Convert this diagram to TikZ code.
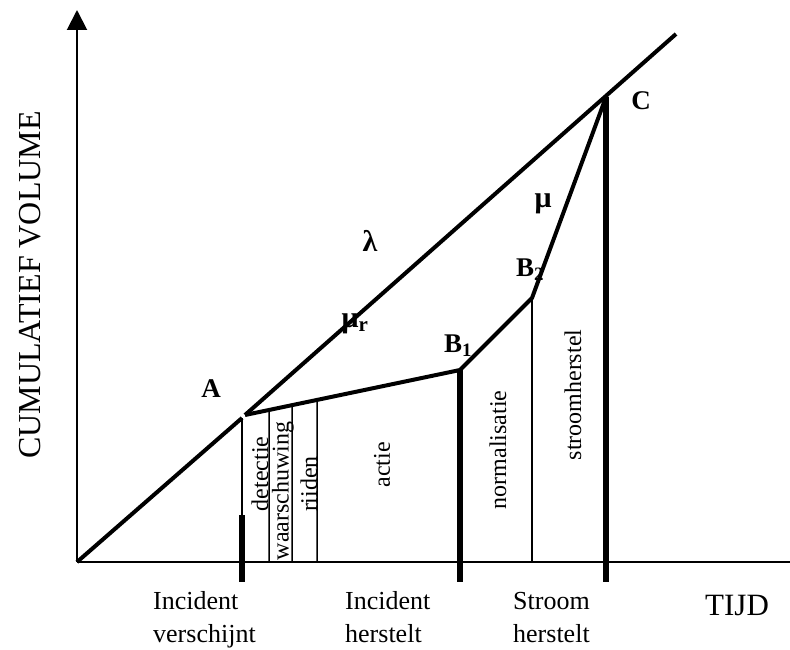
\documentclass[tikz,border=0pt]{standalone}
\usepackage{fontspec}
\setmainfont{Liberation Serif}
\usetikzlibrary{arrows.meta}
\begin{document}
\begin{tikzpicture}[x=1pt,y=-1pt,
  axisline/.style={line width=2pt},
  flowline/.style={line width=4pt},
  thickmark/.style={line width=6pt},
  thinmark/.style={line width=1.5pt},
  phase/.style={rotate=90,inner sep=0pt,font=\fontsize{24}{28}\selectfont},
  bottomlbl/.style={anchor=base west,inner sep=0pt,font=\fontsize{26}{30}\selectfont},
  ptlbl/.style={inner sep=0pt,font=\fontsize{27}{30}\selectfont\bfseries},
  greek/.style={inner sep=0pt,font=\fontsize{30}{34}\selectfont\bfseries}]
\useasboundingbox (0,0) rectangle (790,650);
% coordinates
\coordinate (O) at (77,562);
\coordinate (Ytop) at (77,10);
\coordinate (Xend) at (790,562);
\coordinate (A1) at (242,418);
\coordinate (A2) at (245,415);
\coordinate (Lend) at (676,34);
\coordinate (B1) at (460,370);
\coordinate (B2) at (532,298);
\coordinate (C) at (606,97);
\coordinate (Amid) at (242,515);
\coordinate (Abot) at (242,582);
\coordinate (B1bot) at (460,582);
\coordinate (Cbot) at (606,582);
\coordinate (B2bot) at (532,562);
\coordinate (d1) at (269,562);
\coordinate (d2) at (292,562);
\coordinate (d3) at (317,562);
\coordinate (d1t) at (intersection of A2--B1 and 269,0--269,600);
\coordinate (d2t) at (intersection of A2--B1 and 292,0--292,600);
\coordinate (d3t) at (intersection of A2--B1 and 317,0--317,600);
% axes
\draw[axisline,-{Triangle[width=20pt,length=20pt]}] (O) -- (Ytop);
\draw[axisline] (O) -- (Xend);
% thin verticals
\draw[thinmark] (A1) -- (Amid);
\draw[thinmark] (d1t) -- (d1);
\draw[thinmark] (d2t) -- (d2);
\draw[thinmark] (d3t) -- (d3);
\draw[thinmark] (B2) -- (B2bot);
% thick verticals
\draw[thickmark] (Amid) -- (Abot);
\draw[thickmark] (B1) -- (B1bot);
\draw[thickmark] (C) -- (Cbot);
% flow lines
\draw[flowline] (O) -- (A1);
\draw[flowline] (A2) -- (Lend);
\draw[flowline,line join=round] (A2) -- (B1) -- (B2) -- (C);
% labels
\node[ptlbl] (lA) at (211,389) {A};
\node[ptlbl] (lB1) at (458,346) {B\textsubscript{1}};
\node[ptlbl] (lB2) at (530,270) {B\textsubscript{2}};
\node[ptlbl] (lC) at (641,101) {C};
\node[greek] (lam) at (370,241) {λ};
\node[greek] (mu) at (543,204) {μ};
\node[greek] (mur) at (355,324) {μ\textsubscript{r}};
% phases
\node[phase] (p1) at (260,474) {detectie};
\node[phase] (p2) at (283,491) {waarschuwing};
\node[phase] (p3) at (309,484) {riiden};
\node[phase] (p4) at (382,465) {actie};
\node[phase] (p5) at (498,450) {normalisatie};
\node[phase] (p6) at (573,395) {stroomherstel};
% bottom labels
\node[bottomlbl] (t1a) at (153,609) {Incident};
\node[bottomlbl] (t1b) at (153,642) {verschijnt};
\node[bottomlbl] (t2a) at (345,609) {Incident};
\node[bottomlbl] (t2b) at (345,642) {herstelt};
\node[bottomlbl] (t3a) at (513,609) {Stroom};
\node[bottomlbl] (t3b) at (513,642) {herstelt};
\node[bottomlbl,font=\fontsize{31}{34}\selectfont] (tijd) at (705,615) {TIJD};
\node[rotate=90,inner sep=0pt,font=\fontsize{32}{36}\selectfont] (ylab) at (30,285) {CUMULATIEF VOLUME};
\end{tikzpicture}
\end{document}
